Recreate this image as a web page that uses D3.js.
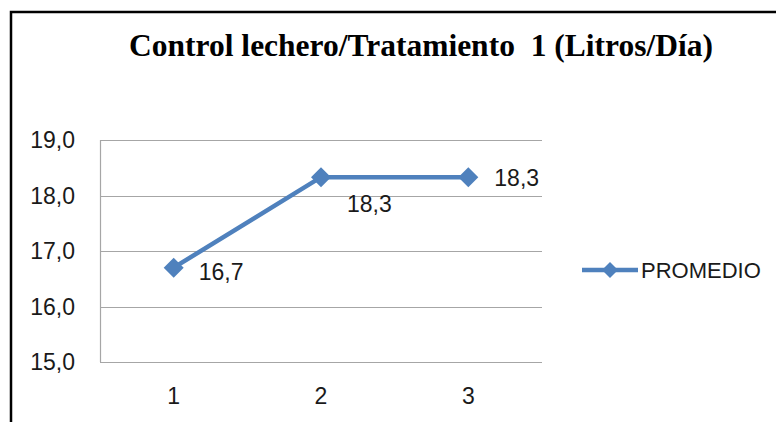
<!DOCTYPE html>
<html>
<head>
<meta charset="utf-8">
<script src="https://cdn.jsdelivr.net/npm/d3@7"></script>
<style>
  body { margin: 0; background: #fff; }
  svg { display: block; }
</style>
</head>
<body>
<div id="viz"></div>
<script>
const title = 'Control lechero/Tratamiento  1 (Litros/Día)';
const categories = ['1', '2', '3'];
const promedio = [16.7, 18.33, 18.33];
const valueLabels = ['16,7', '18,3', '18,3'];
const yTicks = [15, 16, 17, 18, 19];
const seriesName = 'PROMEDIO';

const width = 776;
const height = 422;
const blue = '#4F81BD';
const sans = '"Liberation Sans", Arial, sans-serif';
const textColor = '#1a1a1a';

const svg = d3
    .select('#viz')
    .append('svg')
    .attr('width', width)
    .attr('height', height);

// chart frame (only top and left visible in crop)
svg.append('path')
    .attr('d', `M11,${height} L11,12 L${width},12`)
    .attr('fill', 'none')
    .attr('stroke', '#000')
    .attr('stroke-width', 2.5);

svg.append('text')
    .attr('x', 421)
    .attr('y', 56)
    .attr('text-anchor', 'middle')
    .attr('font-family', '"Liberation Serif", "Times New Roman", serif')
    .attr('font-weight', 'bold')
    .attr('font-size', 31.5)
    .attr('fill', '#000')
    .style('white-space', 'pre')
    .text(title);

const plot = { left: 100, right: 542, top: 140, bottom: 362 };

const xScale = d3.scalePoint()
    .domain(categories)
    .range([plot.left, plot.right])
    .padding(0.5);

const yScale = d3.scaleLinear()
    .domain([15, 19])
    .range([plot.bottom, plot.top]);

// gridlines
svg.append('g')
    .selectAll('line')
    .data(yTicks)
    .join('line')
    .attr('x1', plot.left)
    .attr('x2', plot.right)
    .attr('y1', (d) => Math.round(yScale(d)) + 0.5)
    .attr('y2', (d) => Math.round(yScale(d)) + 0.5)
    .attr('stroke', '#A6A6A6')
    .attr('stroke-width', 1.2);

svg.append('line')
    .attr('x1', plot.left + 0.5)
    .attr('x2', plot.left + 0.5)
    .attr('y1', plot.top)
    .attr('y2', plot.bottom)
    .attr('stroke', '#A6A6A6')
    .attr('stroke-width', 1.2);

// y labels
svg.append('g')
    .selectAll('text')
    .data(yTicks)
    .join('text')
    .attr('x', 75)
    .attr('y', (d) => yScale(d) + 8)
    .attr('text-anchor', 'end')
    .attr('font-family', sans)
    .attr('font-size', 23)
    .attr('fill', textColor)
    .text((d) => d3.format('.1f')(d).replace('.', ','));

// x labels
svg.append('g')
    .selectAll('text')
    .data(categories)
    .join('text')
    .attr('x', (d) => xScale(d))
    .attr('y', 404)
    .attr('text-anchor', 'middle')
    .attr('font-family', sans)
    .attr('font-size', 23)
    .attr('fill', textColor)
    .text((d) => d);

const line = d3.line()
    .x((d, i) => xScale(categories[i]))
    .y((d) => yScale(d));

svg.append('path')
    .datum(promedio)
    .attr('d', line)
    .attr('fill', 'none')
    .attr('stroke', blue)
    .attr('stroke-width', 4.5);

const diamond = (cx, cy, r) => `M${cx},${cy - r} L${cx + r},${cy} L${cx},${cy + r} L${cx - r},${cy} Z`;

svg.append('g')
    .selectAll('path')
    .data(promedio)
    .join('path')
    .attr('d', (d, i) => diamond(xScale(categories[i]), yScale(d), 10))
    .attr('fill', blue);

// value labels
const labelOffsets = [
    { dx: 25, dy: 12 },
    { dx: 26, dy: 35 },
    { dx: 26, dy: 9 },
];
svg.append('g')
    .selectAll('text')
    .data(promedio)
    .join('text')
    .attr('x', (d, i) => xScale(categories[i]) + labelOffsets[i].dx)
    .attr('y', (d, i) => yScale(d) + labelOffsets[i].dy)
    .attr('font-family', sans)
    .attr('font-size', 23)
    .attr('fill', textColor)
    .text((d, i) => valueLabels[i]);

// legend
const legend = svg.append('g').attr('transform', 'translate(582,270)');
legend.append('line')
    .attr('x1', 0)
    .attr('x2', 56)
    .attr('stroke', blue)
    .attr('stroke-width', 4.5);
legend.append('path')
    .attr('d', diamond(28, 0, 8))
    .attr('fill', blue);
legend.append('text')
    .attr('x', 59)
    .attr('y', 8)
    .attr('font-family', sans)
    .attr('font-size', 22)
    .attr('fill', textColor)
    .text(seriesName);
</script>
</body>
</html>
